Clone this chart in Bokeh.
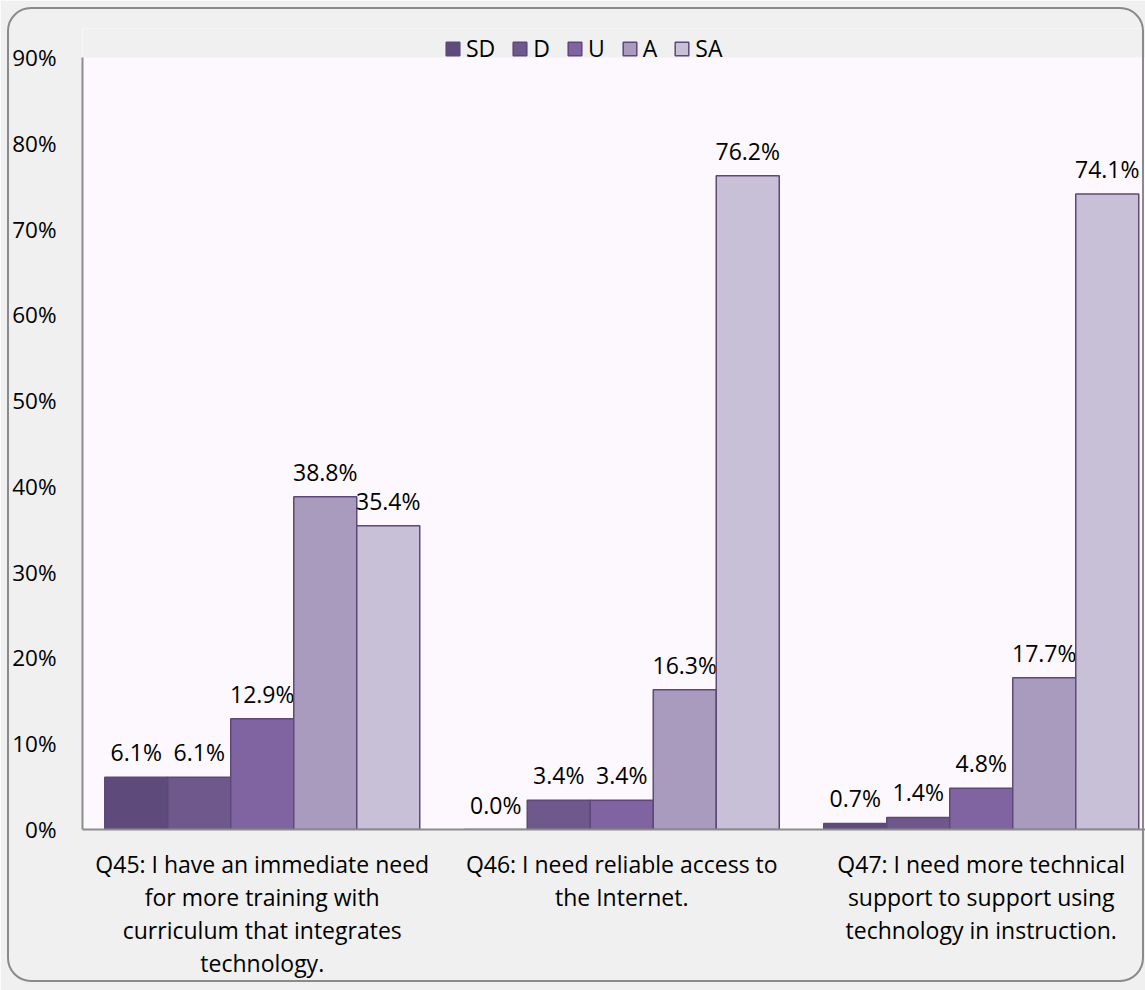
from bokeh.plotting import figure
from bokeh.models import (FixedTicker, PrintfTickFormatter, Legend, LegendItem,
                          ColumnDataSource, Range1d, InlineStyleSheet)
from bokeh.core.properties import value
from bokeh.embed import file_html
from bokeh.resources import INLINE

# ---- data ----
categories = [
    "Q45: I have an immediate need\nfor more training with\ncurriculum that integrates\ntechnology.",
    "Q46: I need reliable access to\nthe Internet.",
    "Q47: I need more technical\nsupport to support using\ntechnology in instruction.",
]
levels = ["SD", "D", "U", "A", "SA"]
sd_vals = [6.1, 0.0, 0.7]
d_vals = [6.1, 3.4, 1.4]
u_vals = [12.9, 3.4, 4.8]
a_vals = [38.8, 16.3, 17.7]
sa_vals = [35.4, 76.2, 74.1]
y_ticks = [0, 10, 20, 30, 40, 50, 60, 70, 80, 90]

series = [sd_vals, d_vals, u_vals, a_vals, sa_vals]
colors = ["#5f4b7b", "#6f588c", "#8064a2", "#a99bbe", "#c8c0d7"]
edge = "#5e4878"

FONT = "Open Sans"
W, H = 1145, 990
left_b, bottom_b = 82, 161
axis_top_px = 57          # where 90% sits
top_b = 28                # frame extended upward to host the legend
frame_w = W - left_b
frame_h = H - top_b - bottom_b
px_per_unit = (H - bottom_b - axis_top_px) / 90.0
y_top = frame_h / px_per_unit
cat_w_px = 359.5
x_end = frame_w / cat_w_px
bar_w = 63 / cat_w_px

p = figure(width=W, height=H,
           output_backend="svg", toolbar_location=None,
           x_range=Range1d(0, x_end), y_range=Range1d(0, y_top),
           min_border_left=left_b, min_border_right=0,
           min_border_top=top_b, min_border_bottom=bottom_b)
p.background_fill_color = "#fcf8fd"
p.border_fill_color = "#f0f0f0"
p.outline_line_color = None
p.xgrid.visible = False
p.ygrid.visible = False

# chart-area grey band above the 90% line (legend zone)
p.quad(left=0, right=x_end, bottom=90, top=y_top,
       fill_color="#f0f0f0", line_color=None)

centers = [i + 0.5 for i in range(len(categories))]
items = []
for j, (lev, vals, col) in enumerate(zip(levels, series, colors)):
    xs = [c + (j - 2) * bar_w for c in centers]
    src = ColumnDataSource(dict(x=xs, top=vals,
                                lab=[f"{v:.1f}%" for v in vals]))
    r = p.vbar(x="x", top="top", bottom=0, width=bar_w, source=src,
               fill_color=col, line_color=edge, line_width=1.5)
    items.append(LegendItem(label=lev, renderers=[r]))
    p.text(x="x", y="top", text="lab", source=src, text_align="center",
           text_baseline="middle", y_offset=-25, text_font=value(FONT),
           text_font_size="23px", text_color="#000000")

# axes
p.yaxis.ticker = FixedTicker(ticks=y_ticks)
p.yaxis.bounds = (0, 90)
p.yaxis.formatter = PrintfTickFormatter(format="%d%%")
p.yaxis.major_tick_line_color = None
p.yaxis.minor_tick_line_color = None
p.yaxis.axis_line_color = "#8c8c8c"
p.yaxis.axis_line_width = 2
p.yaxis.major_label_text_font = FONT
p.yaxis.major_label_text_font_size = "22.5px"
p.yaxis.major_label_text_color = "#000000"
p.yaxis.major_label_standoff = 20

p.xaxis.ticker = FixedTicker(ticks=centers)
p.xaxis.major_label_overrides = {c: t for c, t in zip(centers, categories)}
p.xaxis.major_tick_line_color = None
p.xaxis.minor_tick_line_color = None
p.xaxis.axis_line_color = "#8c8c8c"
p.xaxis.axis_line_width = 2
p.xaxis.major_label_text_font = FONT
p.xaxis.major_label_text_font_size = "23px"
p.xaxis.major_label_text_color = "#000000"
p.xaxis.major_label_text_line_height = 1.04
p.xaxis.major_label_standoff = 12

legend = Legend(items=items, orientation="horizontal",
                location=(362, frame_h - (48 - top_b) - 16),
                glyph_width=17, glyph_height=17, label_standoff=5, spacing=16,
                label_width=0,
                padding=0, margin=0, border_line_color=None,
                background_fill_alpha=0,
                label_text_font=FONT, label_text_font_size="23px",
                label_height=17, label_text_color="#000000")
p.add_layout(legend, "center")

# rounded outer chart border drawn by CSS on the figure's host element
p.stylesheets = [InlineStyleSheet(css="""
:host { position: relative; }
:host::after {
  content: '';
  position: absolute;
  left: 7px; top: 7px;
  width: 1137px; height: 975px;
  box-sizing: border-box;
  border: 2px solid #8a8a8a;
  border-radius: 24px;
  pointer-events: none;
  z-index: 10;
}
""")]

open("out.html", "w").write(file_html(p, INLINE))
